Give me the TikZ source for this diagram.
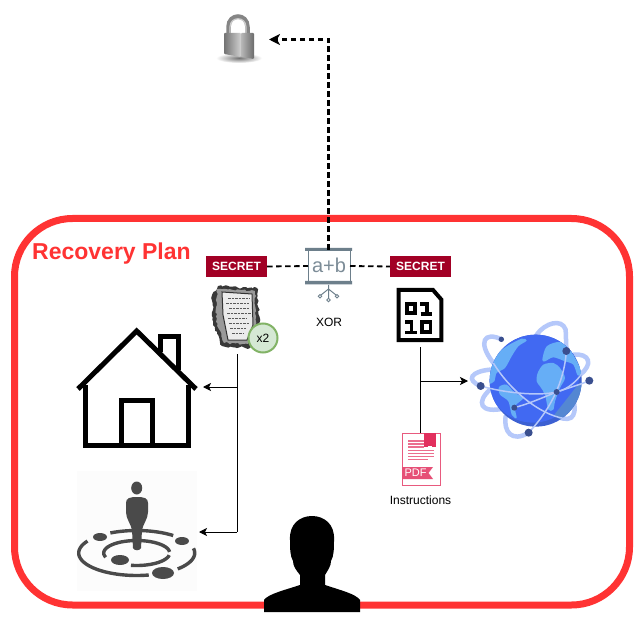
\documentclass[tikz,border=0pt]{standalone}
\usepackage{fontspec}
\setmainfont{Liberation Sans}
\usetikzlibrary{arrows.meta,decorations.pathmorphing}
\definecolor{planred}{HTML}{FF3333}
\definecolor{secretred}{HTML}{A20025}
\definecolor{xorgray}{HTML}{6D7F8B}
\definecolor{ringgray}{HTML}{4A4A4A}
\definecolor{pdfred}{HTML}{E2305E}
\definecolor{orbit}{HTML}{B5C8FA}
\definecolor{globeblue}{HTML}{4169F2}
\definecolor{globedark}{HTML}{3C60D2}
\definecolor{landblue}{HTML}{66AEF6}
\definecolor{landdark}{HTML}{5487D2}
\definecolor{dotblue}{HTML}{3A4F8F}
\definecolor{badgegreen}{HTML}{82B366}
\definecolor{badgefill}{HTML}{D5E8D4}
\definecolor{ringback}{HTML}{FCFCFC}
\newcommand{\ringarc}[4]{\draw[ringgray,line width=3.4pt] plot[domain=#1:#2,samples=30,smooth] ({136.7+#3*cos(\x)},{553+#4*sin(\x)});}
\tikzset{
  anchorbox/.style={inner sep=0pt,outer sep=0pt,minimum width=#1},
  secretbox/.style={fill=secretred,text=white,font=\fontsize{12}{14}\selectfont\bfseries,minimum width=61pt,minimum height=21pt,inner sep=0pt},
  label text/.style={font=\fontsize{12}{14}\selectfont,inner sep=0pt},
  dashline/.style={dash pattern=on 5.5pt off 3.5pt},
  dasharrow/.style={dashline,line width=2.2pt,-{Stealth[inset=3pt,length=11pt,width=11pt]}},
  solidline/.style={line width=1pt},
  solidarrow/.style={line width=1pt,-{Stealth[inset=2pt,length=8pt,width=8pt]}},
  iconline/.style={line width=5pt,miter limit=10},
}
\begin{document}
\begin{tikzpicture}[x=1pt,y=-1pt]
\useasboundingbox (0,0) rectangle (643,639);
\fill[white] (0,0) rectangle (643,639);
% plan frame
\draw[planred,line width=7pt,rounded corners=58pt] (14.5,218.5) rectangle (629.5,605);
\node[anchor=west,inner sep=0pt,text=planred,font=\fontsize{23}{26}\selectfont\bfseries] (plantitle) at (32,254) {Recovery Plan};

% lock
\node[anchorbox=52pt,minimum height=50pt] (lock) at (243,39.5) {};
\shade[inner color=black!55,outer color=white] (239,58) ellipse [x radius=23pt,y radius=5pt];
\draw[line width=4.5pt,draw=black!48] (228.5,36) -- (228.5,27) .. controls (228.5,13) and (247.5,13) .. (247.5,27) -- (247.5,36);
\draw[line width=1.2pt,black!20] (230,36) -- (230,27) .. controls (230,16) and (246,16) .. (246,27) -- (246,36);
\shade[left color=black!55,right color=black!18,rounded corners=1pt] (224,33) -- (241,33) -- (241,57) -- (224,54) -- cycle;
\shade[left color=black!28,right color=black!58,rounded corners=1pt] (241,33) -- (254,33) -- (254,59) -- (241,57) -- cycle;

% xor
\node[anchorbox=42pt,minimum height=32pt,draw=xorgray,line width=1pt,fill=white] (xor) at (329,266) {};
\fill[xorgray] (305,248) rectangle (352,251) (305,281) rectangle (352,284.5);
\node[text=xorgray!90,font=\fontsize{20}{22}\selectfont,inner sep=0pt] (xorsym) at (329,265.5) {a+b};
\draw[xorgray,line width=1pt] (328.5,285) -- (328.5,298) (328.5,289) -- (321,295) (328.5,289) -- (336,295);
\draw[xorgray,line width=.9pt,fill=white] (328.5,300) circle (1.8pt) (320,296.3) circle (1.8pt) (337,296.3) circle (1.8pt);
\node[label text] (xorlabel) at (329,322) {XOR};

% secret labels
\node[secretbox] (secL) at (236.5,266.5) {SECRET};
\node[secretbox] (secR) at (420.5,266.5) {SECRET};

% tablet
\node[anchorbox=46pt,minimum height=68pt] (tablet) at (237,320) {};
\fill[black!78,decorate,decoration={random steps,segment length=2.5pt,amplitude=1.2pt}] (218,286) -- (257,288) -- (258,302) -- (260,325) -- (250,348) -- (222,346) -- (213,325) -- (212,295) -- cycle;
\fill[black!40,decorate,decoration={random steps,segment length=2.5pt,amplitude=1pt}] (217,289) -- (255,291) -- (256,325) -- (248,344) -- (224,343) -- (216,322) -- cycle;
\fill[black!8] (222,292) -- (252,294) -- (253,325) -- (247,340) -- (228,340) -- (223,315) -- cycle;
\draw[black!80,line width=1pt] (222,292) -- (252,294) -- (253,325) -- (247,340) -- (228,340) -- (223,315) -- cycle;
\foreach \yy/\xa/\xb in {298/228/250,303/226/249,308/229/250,313/227/251,318/228/247,323/229/250,328/230/246,333/232/244}
  \draw[black!65,line width=.9pt,dash pattern=on 2.5pt off 1pt] (\xa,\yy) -- (\xb,\yy);
\node[circle,draw=badgegreen,fill=badgefill,line width=2pt,minimum size=29pt,label text] (badge) at (263,338) {x2};

% binary file
\node[anchorbox=47pt,minimum height=59pt] (filebin) at (420.5,317.5) {};
\draw[line width=4pt,miter limit=10,fill=white] (398.7,290) -- (433,290) -- (441.3,299.5) -- (441.3,340) -- (398.7,340) -- cycle;
\draw[line width=3.5pt] (406.8,303.8) rectangle (415.2,313.2);
\draw[line width=3.5pt] (420,304) -- (427,304) -- (427,314) (420.5,314) -- (432,314);
\draw[line width=3.5pt] (405,321.8) -- (411.5,321.8) -- (411.5,332.5) (405,332.5) -- (417,332.5);
\draw[line width=3.5pt] (421.8,321.8) rectangle (430.5,332);

% house
\node[anchorbox=126pt,minimum height=120pt] (house) at (140,387) {};
\begin{scope}[iconline]
\draw (160,352) -- (160,336) -- (178,336) -- (178,370);
\draw (78,389) -- (136.7,331) -- (196,389);
\draw (85.7,385) -- (85.7,445.5) -- (188,445.5) -- (188,385);
\draw (121.7,445.5) -- (121.7,400) -- (152.7,400) -- (152.7,445.5);
\end{scope}

% rings figure
\node[anchorbox=124pt,minimum height=120pt] (rings) at (137,532) {};
\fill[ringback] (77,471) rectangle (197,591);
\ringarc{-12}{45}{58}{22.5}
\ringarc{78}{212}{58}{22.5}
\ringarc{243}{309}{58}{22.5}
\ringarc{160}{355}{33}{12.5}
\ringarc{10}{100}{33}{12.5}
\fill[ringgray] (136.7,488) ellipse [x radius=5.5pt,y radius=6.5pt];
\fill[ringgray] (126,503) .. controls (126,498) and (130,497) .. (137,497) .. controls (144,497) and (148,498) .. (148,503) -- (148,512) .. controls (148,519) and (143,524) .. (142,530) -- (141,548) .. controls (140,551) and (134,551) .. (133,548) -- (132,530) .. controls (131,524) and (126,519) .. (126,512) -- cycle;
\fill[ringgray] (100,537) ellipse [x radius=7pt,y radius=4pt];
\fill[ringgray] (182,541) ellipse [x radius=7pt,y radius=4pt];
\fill[ringgray] (120,560) ellipse [x radius=9pt,y radius=5pt];
\fill[ringgray] (163,573) ellipse [x radius=11pt,y radius=6pt];

% person
\node[anchorbox=96pt,minimum height=96pt] (person) at (312,564) {};
\fill (264,612) -- (264,600) .. controls (268,594) and (285,590) .. (300,585) -- (300,575) .. controls (296,570) and (293,566) .. (293,561) .. controls (290,556) and (290,548) .. (290,540) .. controls (289,524) and (300,516) .. (312,516) .. controls (324,516) and (335,524) .. (334,540) .. controls (334,548) and (334,556) .. (331,561) .. controls (331,566) and (328,570) .. (325,575) -- (325,585) .. controls (340,590) and (356,594) .. (360,600) -- (360,612) -- cycle;

% pdf
\node[anchorbox=39pt,minimum height=53pt] (pdf) at (421,459.5) {};
\draw[pdfred!80,line width=1.2pt,fill=white] (402.3,433.5) rectangle (440.5,485.3);
\fill[pdfred] (424,433) rectangle (436,447);
\fill[white] (428,445.7) rectangle (432,447);
\foreach \yy/\xb in {441/424,444/424,447/424,450.5/434,453.5/434,456.5/434,459.5/428}
  \draw[pdfred!70,line width=1.2pt] (408,\yy) -- (\xb,\yy);
\fill[pdfred!85] (402,467) -- (433,467) -- (428.5,473) -- (433,479) -- (402,479) -- cycle;
\node[text=white,font=\fontsize{11}{12}\selectfont,inner sep=0pt] (pdfword) at (415.5,473.2) {PDF};
\node[label text] (pdflabel) at (420.5,500) {Instructions};

% globe
\node[anchorbox=124pt,minimum height=124pt] (globe) at (530,381) {};
\begin{scope}[shift={(465,318)},x=0.3333pt,y=-0.3333pt]
\begin{scope}[orbit,line width=4.5pt,line cap=round]
\draw (215,50) .. controls (240,15) and (290,0) .. (302,35) -- (304,90);
\draw (122,295) .. controls (115,340) and (140,375) .. (191,344);
\draw (109,64) .. controls (60,40) and (35,70) .. (85,135);
\draw (265,290) .. controls (310,315) and (340,305) .. (325,245);
\draw (75,155) .. controls (20,160) and (0,185) .. (47,204);
\draw (75,215) .. controls (35,250) and (40,290) .. (125,270);
\draw (325,110) .. controls (375,105) and (385,140) .. (345,170);
\end{scope}
\fill[globedark] (212,188) circle (46pt);
\begin{scope}
\clip (212,188) circle (46pt);
\fill[globeblue] (204,176) circle (46pt);
\fill[landblue] plot[smooth cycle,tension=.5] coordinates {(72,195) (78,150) (90,115) (125,85) (170,62) (185,68) (160,85) (140,115) (120,150) (95,165) (88,190)};
\fill[landblue] plot[smooth cycle,tension=.5] coordinates {(102,207) (125,200) (150,225) (175,240) (150,265) (155,300) (140,290) (130,250) (105,230)};
\fill[landblue] plot[smooth cycle,tension=.5] coordinates {(218,165) (235,140) (265,135) (285,150) (300,180) (285,210) (270,250) (265,275) (250,275) (240,230) (225,205) (215,190)};
\fill[landblue] plot[smooth cycle,tension=.5] coordinates {(232,125) (245,85) (285,72) (315,95) (350,160) (338,172) (325,140) (300,130) (265,118) (240,130)};
\fill[landdark] (352,190) -- (352,250) -- (285,305) -- (268,290) -- (300,250) -- (335,205) -- cycle;
\end{scope}
\begin{scope}[orbit,line width=1.5pt]
\draw (85,135) .. controls (130,210) and (220,290) .. (300,302);
\draw (47,204) .. controls (120,225) and (220,235) .. (275,222) .. controls (310,213) and (335,190) .. (352,165);
\draw (148,269) .. controls (190,258) and (235,238) .. (275,222) .. controls (310,210) and (345,200) .. (373,188);
\draw (304,99) .. controls (300,170) and (270,260) .. (191,344);
\end{scope}
\foreach \dx/\dy/\dr in {109/64/2.7,304/99/4,373/188/4,47/204/4,275/222/3,148/269/3,191/344/4}
  \fill[dotblue] (\dx,\dy) circle (\dr pt);
\end{scope}

% connectors
\draw[dasharrow] (328.5,250) |- (lock.east);
\draw[dashline,line width=1.8pt] (secL.east) -- (xor.west);
\draw[dashline,line width=1.8pt] (xor.east) -- (secR.west);
\coordinate (housejoin) at (237,387);
\coordinate (ringsjoin) at (237,532);
\coordinate (globejoin) at (420.5,381);
\draw[solidline] (tablet.south) -- (ringsjoin);
\draw[solidarrow] (housejoin) -- (house.east);
\draw[solidarrow] (ringsjoin) -- (rings.east);
\draw[solidline] (filebin.south) -- (filebin.south |- pdf.north);
\draw[solidarrow] (globejoin) -- (globe.west);
\end{tikzpicture}
\end{document}
